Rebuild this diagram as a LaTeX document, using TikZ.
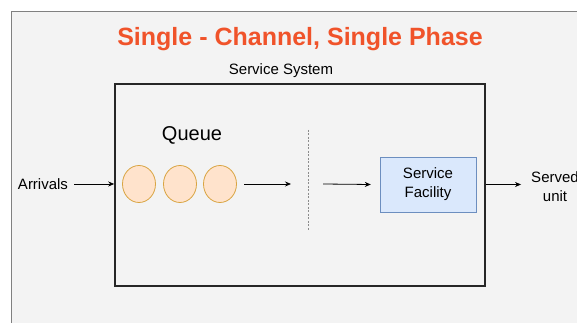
\documentclass[tikz,border=0pt]{standalone}
\usepackage{fontspec}
\setmainfont{Liberation Sans}
\usepackage{xcolor}
\usepackage{tikz}
\usetikzlibrary{arrows.meta, positioning, shapes.geometric}
\definecolor{paneltone}{HTML}{F3F3F3}
\definecolor{titletone}{HTML}{F0532A}
\definecolor{queuefill}{HTML}{FFE3CC}
\definecolor{queueline}{HTML}{D9A441}
\definecolor{facfill}{HTML}{DAE8FC}
\definecolor{facline}{HTML}{6C8EBF}
\tikzset{
  title/.style={font=\fontsize{25}{29}\selectfont\bfseries, text=titletone},
  label/.style={font=\fontsize{15}{19}\selectfont, align=center, inner sep=0pt},
  system/.style={draw=black!85, line width=1.6pt, minimum width=370pt, minimum height=202pt},
  unit/.style={ellipse, draw=queueline, thick, fill=queuefill, minimum width=33pt, minimum height=37pt, inner sep=0pt},
  facility/.style={draw=facline, fill=facfill, align=center, font=\fontsize{15}{19}\selectfont, minimum width=96pt, minimum height=55pt},
  arrow/.style={-{Stealth[length=6pt, width=5pt]}, thick},
  divider/.style={draw=black!45, thick, dash pattern=on 2pt off 1.5pt}
}
\begin{document}
\begin{tikzpicture}[x=1pt, y=1pt]
    \useasboundingbox (0,0) rectangle (577,323);
    \fill[paneltone] (11,0) rectangle (577,312);
    \draw[black!50, thick] (11,0) -- (11,312) -- (577,312);

    \node[title] (head) at (300,284) {Single - Channel, Single Phase};
    \node[system] (sys) at (300,138) {};
    \node[label] (syslabel) at (281,252) {Service System};
    \node[label, font=\fontsize{20}{24}\selectfont] (queue) at (192,188) {Queue};

    \node[unit] (q1) at (139,139) {};
    \node[unit] (q2) at (180,139) {};
    \node[unit] (q3) at (220,139) {};
    \node[label] (arrivals) at (43,139) {Arrivals};
    \node[facility] (fac) at (428,138.5) {Service\\Facility};
    \node[label] (served) at (555,136.5) {Served\\unit};

    \coordinate (qout) at (244,139);
    \coordinate (qin) at (291,139);
    \coordinate (dtop) at (308,193);
    \coordinate (dbot) at (308,93);
    \coordinate (fin) at (323,139);

    \draw[arrow] ([xshift=6pt]arrivals.east) -- (arrivals.east -| sys.west);
    \draw[arrow] (qout) -- (qin);
    \draw[divider] (dtop) -- (dbot);
    \draw[arrow] (fin) -- ([xshift=-9pt]fac.west);
    \draw[arrow] (sys.east |- fac.east) -- ([xshift=-10pt]served.west |- fac.east);
\end{tikzpicture}
\end{document}
